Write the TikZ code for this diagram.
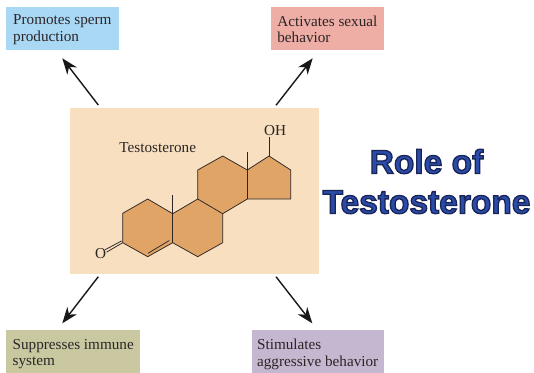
\documentclass[tikz,border=0pt]{standalone}
\usepackage{fontspec}
\setmainfont{Liberation Serif}
\newfontfamily\titlefont{Liberation Sans}[BoldFont={Liberation Sans Bold}]
\usetikzlibrary{arrows.meta,positioning,calc}
\definecolor{inkdark}{HTML}{2B2526}
\definecolor{panelcol}{HTML}{F7DFBF}
\definecolor{ringcol}{HTML}{E0A566}
\definecolor{titleblue}{HTML}{2B4BA8}
\definecolor{spermcol}{HTML}{A9D8F5}
\definecolor{sexualcol}{HTML}{EEADA5}
\definecolor{immunecol}{HTML}{C9C8A0}
\definecolor{aggresscol}{HTML}{C5B7D0}
\newcommand{\outlined}[1]{\special{pdf:code 2 Tr 1.3 w 0.10 0.14 0.34 RG}#1\special{pdf:code 0 Tr}}

\begin{document}
\begin{tikzpicture}[
  x=1pt, y=-1pt,
  effectbox/.style={rectangle, fill=#1, anchor=north west, align=left, font=\fontsize{15.2}{16.5}\selectfont, text=inkdark, inner sep=0pt},
  arr/.style={-{Stealth[length=16pt, width=12pt, inset=5pt]}, line width=1.4pt, black!90},
  bond/.style={line width=0.75pt, inkdark},
  atom/.style={font=\fontsize{15.2}{16}\selectfont, text=inkdark, inner sep=0pt}
]
  \useasboundingbox (0,0) rectangle (534,372);
  \fill[white] (0,0) rectangle (534,372);

  \node[rectangle, fill=panelcol, minimum width=249pt, minimum height=165.7pt, inner sep=0pt, anchor=north west] (panel) at (69.3,108) {};

  % effects
  \node[effectbox=spermcol, minimum width=112.3pt, minimum height=43.3pt] (sperm) at (6,6.7) {\rule{0pt}{12.5pt}Promotes sperm\\production};
  \node[effectbox=sexualcol, minimum width=112.3pt, minimum height=43.3pt] (sexual) at (271,6.7) {\rule{0pt}{12.5pt}Activates sexual\\behavior};
  \node[effectbox=immunecol, minimum width=134pt, minimum height=48pt] (immune) at (6,330) {Suppresses immune\\system};
  \node[effectbox=aggresscol, minimum width=131.6pt, minimum height=48pt] (aggress) at (251.7,330) {Stimulates\\aggressive behavior};

  \coordinate (tlstart) at (98.3,105);
  \coordinate (tlend) at (62.3,58.3);
  \coordinate (trstart) at (276,105.3);
  \coordinate (trend) at (312.7,58.3);
  \coordinate (blstart) at (98.3,276.7);
  \coordinate (blend) at (62.3,323.3);
  \coordinate (brstart) at (276,276.7);
  \coordinate (brend) at (312.3,323.3);
  \draw[arr] (tlstart) -- (tlend);
  \draw[arr] (trstart) -- (trend);
  \draw[arr] (blstart) -- (blend);
  \draw[arr] (brstart) -- (brend);

  % ring atoms
  \coordinate (a1) at (122.7,213.3);
  \coordinate (a2) at (147.7,199);
  \coordinate (a3) at (172.7,213.7);
  \coordinate (a4) at (172.7,242.7);
  \coordinate (a5) at (147.7,256.7);
  \coordinate (a6) at (122.7,242.7);
  \coordinate (b1) at (197.7,199);
  \coordinate (b2) at (222.7,213.7);
  \coordinate (b3) at (222.7,242.7);
  \coordinate (b4) at (197.7,256.7);
  \coordinate (c1) at (197.7,170);
  \coordinate (c2) at (222.7,156);
  \coordinate (c3) at (247.3,170);
  \coordinate (c4) at (247.3,199);
  \coordinate (d1) at (269,156);
  \coordinate (d2) at (290.7,170);
  \coordinate (d3) at (290.7,199);

  \filldraw[bond, fill=ringcol, line join=round] (a1) -- (a2) -- (a3) -- (b1) -- (c1) -- (c2) -- (c3) -- (d1) -- (d2) -- (d3) -- (c4) -- (b2) -- (b3) -- (b4) -- (a4) -- (a5) -- (a6) -- cycle;
  \draw[bond] (a3) -- (a4);
  \draw[bond] (b1) -- (b2);
  \draw[bond] (c3) -- (c4);
  \coordinate (dbla) at (148,253.3);
  \coordinate (dblb) at (169.3,240.5);
  \draw[bond] (dbla) -- (dblb);

  \coordinate (me1) at (172.7,195.3);
  \coordinate (me2) at (247.3,152);
  \draw[bond] (a3) -- (me1);
  \draw[bond] (c3) -- (me2);

  \node[atom] (hydroxyl) at (275,131) {OH};
  \node[atom] (oxo) at (100.7,253.3) {O};
  \coordinate (ohbase) at (269,137);
  \draw[bond] (d1) -- (ohbase);
  \coordinate (oa) at (106.5,252.2);
  \coordinate (ob) at (105.3,249.6);
  \coordinate (a6up) at (121.6,240.9);
  \draw[bond] (a6) -- (oa);
  \draw[bond] (a6up) -- (ob);

  \node[atom] (hormone) at (157.7,147.3) {Testosterone};

  \node[align=center, font=\titlefont\bfseries\fontsize{33.5}{40}\selectfont, text=titleblue, inner sep=0pt] (title) at (426.5,181.5) {\outlined{Role of}\\\outlined{Testosterone}};
\end{tikzpicture}
\end{document}
